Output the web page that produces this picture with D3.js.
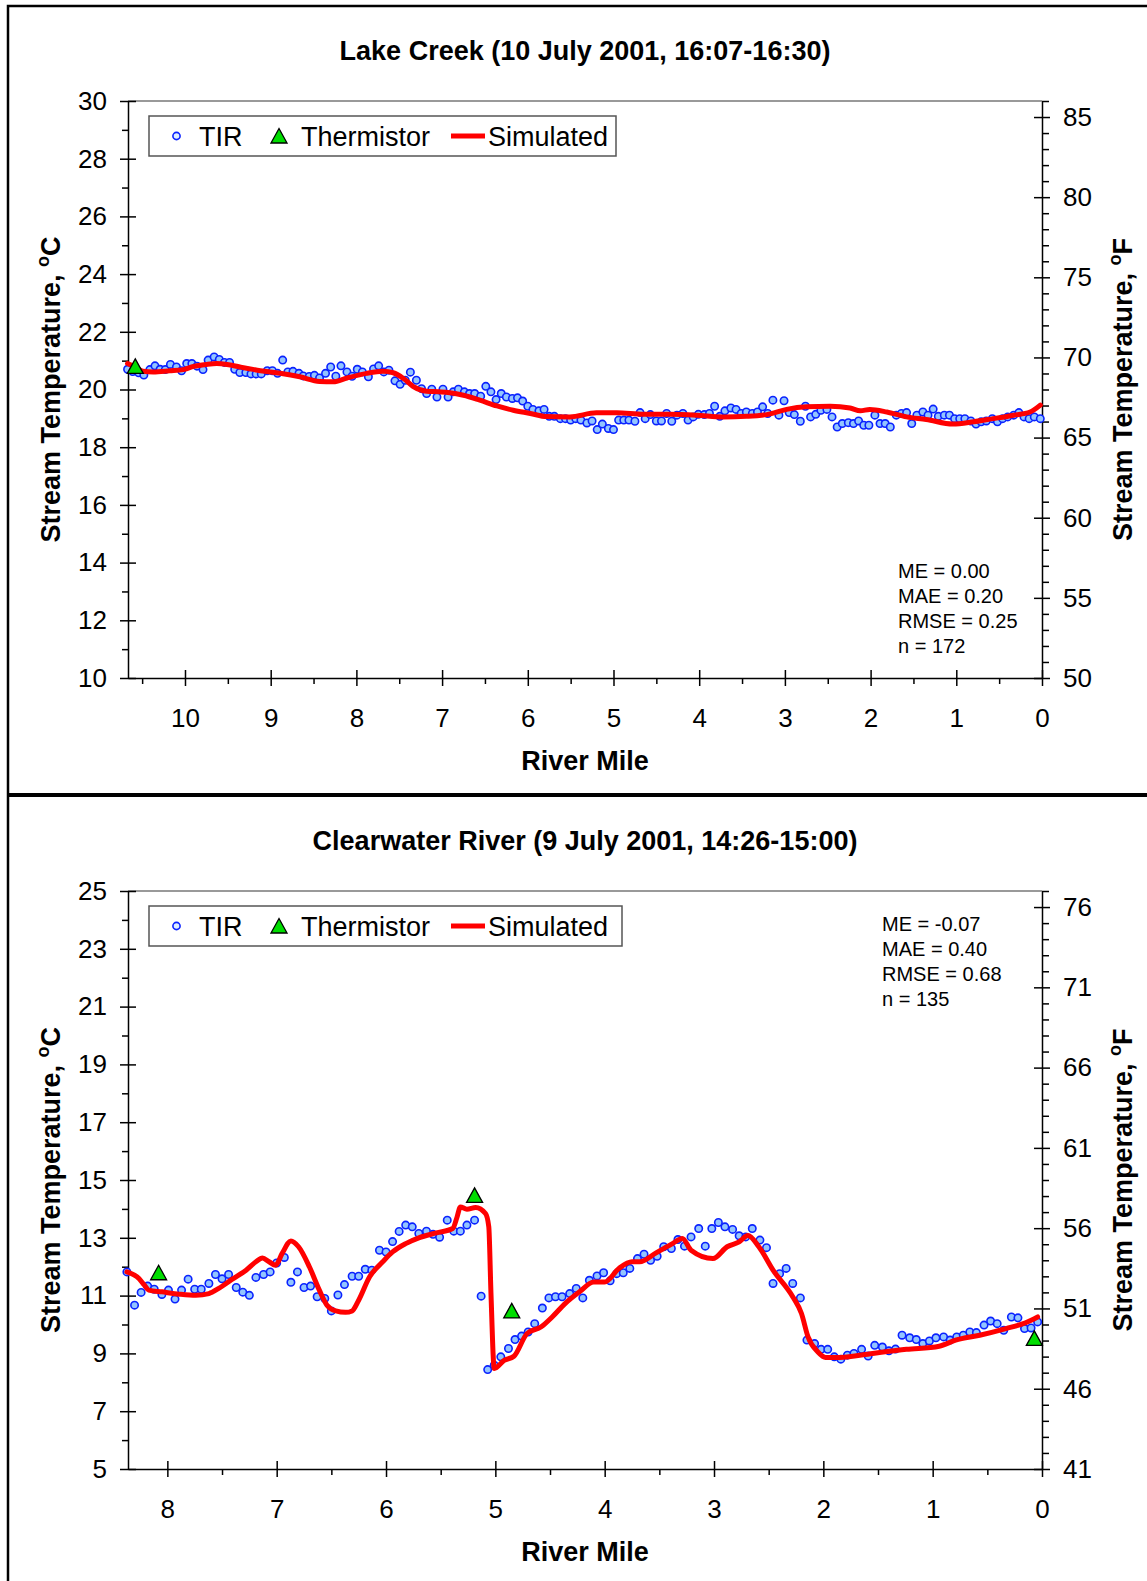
<!DOCTYPE html>
<html>
<head>
<meta charset="utf-8">
<script src="https://cdn.jsdelivr.net/npm/d3@7"></script>
<style>
	body { margin: 0; background: #fff; }
	svg { display: block; font-family: "Liberation Sans", Arial, sans-serif; }
</style>
</head>
<body>
<div id="chart"></div>
<script>

// Lake Creek : [river mile, deg C]
var lakeTir = [
	[10.67,20.70],[10.61,20.62],[10.54,20.58],[10.48,20.50],[10.41,20.69],[10.35,20.82],[10.29,20.70],[10.23,20.69],
	[10.17,20.87],[10.10,20.78],[10.04,20.65],[9.98,20.90],[9.92,20.90],[9.86,20.81],[9.79,20.69],[9.73,21.02],
	[9.66,21.13],[9.60,21.04],[9.54,20.94],[9.48,20.94],[9.42,20.70],[9.36,20.59],[9.29,20.59],[9.23,20.54],
	[9.17,20.54],[9.11,20.54],[9.04,20.65],[8.98,20.65],[8.92,20.56],[8.86,21.02],[8.80,20.61],[8.74,20.63],
	[8.67,20.56],[8.62,20.47],[8.55,20.45],[8.49,20.49],[8.43,20.40],[8.36,20.56],[8.30,20.78],[8.24,20.46],
	[8.18,20.82],[8.11,20.61],[8.05,20.46],[7.99,20.70],[7.93,20.61],[7.86,20.44],[7.80,20.71],[7.74,20.82],
	[7.68,20.61],[7.62,20.67],[7.55,20.30],[7.49,20.18],[7.43,20.32],[7.37,20.60],[7.30,20.32],[7.24,20.03],
	[7.18,19.86],[7.12,20.01],[7.06,19.74],[6.99,20.01],[6.93,19.74],[6.87,19.92],[6.81,20.01],[6.74,19.92],
	[6.68,19.86],[6.62,19.86],[6.55,19.77],[6.49,20.11],[6.43,19.92],[6.37,19.65],[6.31,19.86],[6.25,19.74],
	[6.18,19.69],[6.12,19.71],[6.06,19.60],[6.00,19.42],[5.94,19.31],[5.87,19.26],[5.81,19.31],[5.75,19.07],
	[5.69,19.07],[5.62,18.99],[5.56,18.99],[5.50,18.94],[5.44,18.99],[5.38,18.94],[5.31,18.84],[5.25,18.91],
	[5.19,18.61],[5.13,18.80],[5.06,18.65],[5.00,18.61],[4.94,18.94],[4.88,18.94],[4.82,18.94],[4.75,18.90],
	[4.69,19.20],[4.63,18.99],[4.57,19.13],[4.50,18.91],[4.44,18.91],[4.38,19.17],[4.32,18.90],[4.26,19.11],
	[4.19,19.17],[4.13,18.94],[4.07,19.05],[4.01,19.14],[3.94,19.13],[3.88,19.17],[3.82,19.42],[3.76,19.07],
	[3.70,19.26],[3.63,19.36],[3.57,19.31],[3.51,19.17],[3.45,19.22],[3.38,19.17],[3.32,19.22],[3.26,19.40],
	[3.20,19.17],[3.14,19.63],[3.07,19.11],[3.01,19.61],[2.95,19.20],[2.89,19.13],[2.82,18.90],[2.76,19.42],
	[2.70,19.05],[2.64,19.14],[2.58,19.28],[2.51,19.31],[2.45,19.05],[2.39,18.70],[2.33,18.82],[2.26,18.85],
	[2.20,18.82],[2.14,18.91],[2.08,18.76],[2.02,18.76],[1.95,19.11],[1.89,18.82],[1.83,18.82],[1.77,18.70],
	[1.70,19.11],[1.64,19.17],[1.58,19.20],[1.52,18.82],[1.46,19.11],[1.39,19.22],[1.33,19.11],[1.27,19.32],
	[1.21,19.07],[1.14,19.11],[1.08,19.11],[1.02,18.99],[0.96,18.99],[0.90,18.99],[0.83,18.91],[0.77,18.80],
	[0.71,18.88],[0.65,18.91],[0.58,18.99],[0.52,18.88],[0.46,18.99],[0.40,19.05],[0.33,19.11],[0.27,19.20],
	[0.21,19.05],[0.15,18.99],[0.09,19.05],[0.02,18.99]
];

var lakeSim = [
	[10.67,20.90],[10.58,20.78],[10.49,20.63],[10.37,20.61],[10.18,20.65],[10.02,20.69],[9.90,20.80],[9.75,20.87],
	[9.63,20.90],[9.51,20.87],[9.36,20.78],[9.12,20.65],[8.89,20.56],[8.66,20.44],[8.43,20.28],[8.27,20.27],
	[8.11,20.40],[7.88,20.56],[7.69,20.63],[7.57,20.58],[7.45,20.38],[7.34,20.11],[7.18,19.94],[7.04,19.92],
	[6.91,19.89],[6.75,19.80],[6.56,19.63],[6.36,19.43],[6.17,19.28],[5.97,19.17],[5.78,19.06],[5.51,19.05],
	[5.20,19.19],[4.96,19.19],[4.65,19.14],[4.34,19.14],[4.03,19.11],[3.72,19.05],[3.45,19.07],[3.21,19.13],
	[2.98,19.31],[2.75,19.40],[2.47,19.42],[2.24,19.36],[2.12,19.26],[2.01,19.31],[1.81,19.22],[1.58,19.05],
	[1.35,18.96],[1.04,18.80],[0.80,18.88],[0.57,18.99],[0.33,19.11],[0.14,19.22],[0.02,19.46]
];

var lakeTherm = [[10.58,20.80]];
var lakeStats = ["ME = 0.00", "MAE = 0.20", "RMSE = 0.25", "n = 172"];

// Clearwater River : [river mile, deg C]
var clearTir = [
	[8.37,11.82],[8.30,10.67],[8.24,11.11],[8.18,11.33],[8.12,11.22],[8.05,11.04],[7.99,11.19],[7.93,10.88],
	[7.87,11.19],[7.81,11.57],[7.75,11.22],[7.69,11.22],[7.62,11.42],[7.56,11.73],[7.50,11.58],[7.44,11.73],
	[7.37,11.28],[7.31,11.12],[7.25,11.01],[7.19,11.63],[7.12,11.73],[7.06,11.82],[7.00,12.13],[6.93,12.32],
	[6.87,11.46],[6.81,11.82],[6.75,11.28],[6.69,11.33],[6.63,10.96],[6.56,10.90],[6.50,10.47],[6.44,11.02],
	[6.38,11.38],[6.31,11.67],[6.25,11.67],[6.19,11.91],[6.13,11.88],[6.06,12.57],[6.00,12.51],[5.94,12.87],
	[5.88,13.22],[5.82,13.44],[5.76,13.38],[5.70,13.15],[5.63,13.23],[5.57,13.12],[5.51,13.02],[5.44,13.61],
	[5.38,13.23],[5.32,13.23],[5.26,13.44],[5.19,13.61],[5.13,10.98],[5.07,8.44],[5.01,8.59],[4.95,8.88],
	[4.88,9.17],[4.82,9.48],[4.76,9.60],[4.70,9.74],[4.64,10.03],[4.57,10.57],[4.51,10.92],[4.45,10.96],
	[4.39,10.96],[4.32,11.07],[4.26,11.25],[4.20,10.92],[4.14,11.53],[4.07,11.68],[4.01,11.79],[3.95,11.51],
	[3.89,11.76],[3.83,11.79],[3.77,11.94],[3.70,12.28],[3.64,12.43],[3.58,12.22],[3.52,12.36],[3.46,12.69],
	[3.39,12.63],[3.33,12.94],[3.27,12.71],[3.21,13.03],[3.14,13.32],[3.08,12.71],[3.02,13.32],[2.96,13.53],
	[2.90,13.38],[2.83,13.29],[2.77,13.07],[2.71,13.03],[2.65,13.32],[2.58,12.92],[2.52,12.66],[2.46,11.42],
	[2.40,11.76],[2.34,11.94],[2.28,11.42],[2.21,10.92],[2.15,9.46],[2.08,9.34],[2.02,9.14],[1.96,9.14],
	[1.90,8.88],[1.84,8.80],[1.78,8.94],[1.72,9.00],[1.65,9.14],[1.59,8.91],[1.53,9.28],[1.46,9.22],
	[1.40,9.09],[1.34,9.15],[1.28,9.63],[1.21,9.54],[1.15,9.48],[1.09,9.34],[1.03,9.43],[0.97,9.54],
	[0.90,9.57],[0.84,9.46],[0.78,9.57],[0.72,9.63],[0.66,9.74],[0.60,9.72],[0.53,9.98],[0.47,10.12],
	[0.41,10.03],[0.35,9.80],[0.28,10.26],[0.22,10.23],[0.16,9.86],[0.10,9.88],[0.04,10.09]
];

var clearSim = [
	[8.37,11.82],[8.26,11.59],[8.21,11.36],[8.17,11.19],[8.05,11.13],[7.89,11.05],[7.74,11.01],[7.62,11.07],
	[7.53,11.25],[7.41,11.56],[7.28,11.88],[7.19,12.17],[7.13,12.30],[7.07,12.17],[7.01,12.05],[6.95,12.46],
	[6.87,12.89],[6.80,12.69],[6.70,11.99],[6.61,11.19],[6.54,10.67],[6.46,10.47],[6.37,10.42],[6.31,10.47],
	[6.25,10.84],[6.15,11.65],[6.03,12.17],[5.94,12.51],[5.82,12.80],[5.70,13.00],[5.54,13.17],[5.39,13.32],
	[5.35,13.72],[5.32,14.07],[5.26,13.99],[5.18,14.05],[5.09,13.84],[5.06,13.38],[5.04,11.07],[5.01,8.48],
	[4.92,8.76],[4.83,8.90],[4.71,9.69],[4.58,9.92],[4.48,10.26],[4.36,10.73],[4.23,11.13],[4.10,11.47],
	[4.00,11.47],[3.87,11.94],[3.75,12.17],[3.68,12.17],[3.53,12.48],[3.38,12.80],[3.29,12.98],[3.21,12.57],
	[3.01,12.28],[2.88,12.69],[2.77,12.86],[2.69,13.08],[2.59,12.69],[2.46,11.88],[2.28,10.96],[2.20,10.38],
	[2.14,9.57],[2.05,9.05],[1.98,8.86],[1.85,8.86],[1.55,9.00],[1.24,9.14],[0.94,9.25],[0.79,9.46],
	[0.57,9.63],[0.33,9.86],[0.15,10.06],[0.04,10.26]
];

var clearTherm = [[8.08,11.79],[5.19,14.47],[4.85,10.47],[0.07,9.52]];
var clearStats = ["ME = -0.07", "MAE = 0.40", "RMSE = 0.68", "n = 135"];

var lakeCTicks = [10, 12, 14, 16, 18, 20, 22, 24, 26, 28, 30];
var lakeFTicks = [50, 55, 60, 65, 70, 75, 80, 85];
var lakeMileTicks = [0, 1, 2, 3, 4, 5, 6, 7, 8, 9, 10];
var clearCTicks = [5, 7, 9, 11, 13, 15, 17, 19, 21, 23, 25];
var clearFTicks = [41, 46, 51, 56, 61, 66, 71, 76];
var clearMileTicks = [0, 1, 2, 3, 4, 5, 6, 7, 8];

var width = 1147,
	height = 1581,
	left = 128,
	right = 1042,
	font = 26,
	bigFont = 27;

var svg = d3.select("#chart").append("svg")
	.attr("width", width)
	.attr("height", height);

svg.append("rect")
	.attr("width", width).attr("height", height)
	.attr("fill", "#fff");

// figure frame and panel divider
svg.append("rect")
	.attr("x", 8).attr("y", 6)
	.attr("width", width + 20).attr("height", height + 20)
	.attr("fill", "none").attr("stroke", "#000").attr("stroke-width", 2.5);

svg.append("line")
	.attr("x1", 8).attr("x2", width)
	.attr("y1", 795).attr("y2", 795)
	.attr("stroke", "#000").attr("stroke-width", 4);

function cToF(c) { return c * 9 / 5 + 32; }

function triangle(sel) {
	return sel.attr("d", "M0,-7.5L8,7L-8,7Z")
		.attr("fill", "#00dd00")
		.attr("stroke", "#000")
		.attr("stroke-width", 1.3);
}

function drawPanel(p) {

	var x = d3.scaleLinear().domain([p.mileMax, 0]).range([left, right]),
		y = d3.scaleLinear().domain(p.cDomain).range([p.bottom, p.top]),
		yF = d3.scaleLinear().domain(p.cDomain.map(cToF)).range([p.bottom, p.top]);

	var g = svg.append("g");

	g.append("text")
		.attr("x", (left + right) / 2).attr("y", p.top - 41)
		.attr("text-anchor", "middle")
		.attr("font-size", bigFont).attr("font-weight", "bold")
		.text(p.title);

	// grey top frame
	g.append("line")
		.attr("x1", left).attr("x2", right)
		.attr("y1", p.top).attr("y2", p.top)
		.attr("stroke", "#777").attr("stroke-width", 1.5);

	var fMin = Math.ceil(cToF(p.cDomain[0])), fMax = Math.floor(cToF(p.cDomain[1]));
	var fMinor = d3.range(fMin, fMax + 1).filter(function(v){ return p.fTicks.indexOf(v) < 0; });
	var cMinor = d3.range(p.cDomain[0], p.cDomain[1] + 1).filter(function(v){ return p.cTicks.indexOf(v) < 0; });
	var mileMinor = d3.range(0.5, p.mileMax, 1);

	function minor(axis, vals, size, tr) {
		var a = g.append("g").attr("transform", tr)
			.call(axis.tickValues(vals).tickSize(size).tickFormat(""));
		a.select(".domain").remove();
		a.selectAll("line").attr("stroke-width", 1.5);
	}
	minor(d3.axisBottom(x), mileMinor, 6, "translate(0," + p.bottom + ")");
	minor(d3.axisLeft(y), cMinor, 6, "translate(" + left + ",0)");
	minor(d3.axisRight(yF), fMinor, 7, "translate(" + right + ",0)");

	function major(axis, vals, tr, cross) {
		var a = g.append("g").attr("transform", tr)
			.call(axis.tickValues(vals).tickSizeInner(8).tickSizeOuter(0).tickPadding(13));
		a.attr("font-size", font).attr("font-family", null);
		a.select(".domain").attr("stroke-width", 1.5);
		a.selectAll(".tick line").attr("stroke-width", 1.5).attr(cross, function(){
			return -d3.select(this).attr(cross === "y1" ? "y2" : "x2");
		});
		return a;
	}

	var xa = major(d3.axisBottom(x).tickFormat(d3.format("d")), p.mileTicks, "translate(0," + p.bottom + ")", "y1");
	xa.selectAll(".tick text").attr("y", 49).attr("dy", null);
	major(d3.axisLeft(y), p.cTicks, "translate(" + left + ",0)", "x1");
	major(d3.axisRight(yF), p.fTicks, "translate(" + right + ",0)", "x1");

	g.append("text")
		.attr("x", (left + right) / 2).attr("y", p.bottom + 92)
		.attr("text-anchor", "middle")
		.attr("font-size", bigFont).attr("font-weight", "bold")
		.text("River Mile");

	[["C", 60], ["F", 1132]].forEach(function(d){
		var t = g.append("text")
			.attr("transform", "translate(" + d[1] + "," + (p.top + p.bottom) / 2 + ") rotate(-90)")
			.attr("text-anchor", "middle")
			.attr("font-size", bigFont).attr("font-weight", "bold");
		t.append("tspan").text("Stream Temperature, ");
		t.append("tspan").attr("font-size", 18).attr("dy", -11).text("o");
		t.append("tspan").attr("dy", 11).text(d[0]);
	});

	// TIR points, simulated line, thermistors
	g.append("g").selectAll("circle")
		.data(p.tir)
		.join("circle")
		.attr("cx", function(d){ return x(d[0]); })
		.attr("cy", function(d){ return y(d[1]); })
		.attr("r", 3.7)
		.attr("fill", "#93c5ff")
		.attr("stroke", "#0a22ff")
		.attr("stroke-width", 1.6);

	var line = d3.line()
		.x(function(d){ return x(d[0]); })
		.y(function(d){ return y(d[1]); })
		.curve(d3.curveMonotoneX);

	g.append("path")
		.datum(p.sim)
		.attr("d", line)
		.attr("fill", "none")
		.attr("stroke", "#ff0000")
		.attr("stroke-width", 5)
		.attr("stroke-linejoin", "round")
		.attr("stroke-linecap", "round");

	g.append("g").selectAll("path")
		.data(p.therm)
		.join("path")
		.attr("transform", function(d){ return "translate(" + x(d[0]) + "," + y(d[1]) + ")"; })
		.call(triangle);

	// legend
	var lg = g.append("g").attr("transform", "translate(149," + p.legendY + ")");
	lg.append("rect")
		.attr("width", p.legendW).attr("height", 40)
		.attr("fill", "#fff").attr("stroke", "#555").attr("stroke-width", 1.5);
	lg.append("circle")
		.attr("cx", 27.5).attr("cy", 20).attr("r", 3.6)
		.attr("fill", "#dfeeff").attr("stroke", "#0a22ff").attr("stroke-width", 1.6);
	lg.append("path").attr("transform", "translate(130,20)").call(triangle);
	lg.append("line")
		.attr("x1", 302).attr("x2", 336).attr("y1", 20).attr("y2", 20)
		.attr("stroke", "#ff0000").attr("stroke-width", 5);
	[["TIR", 50], ["Thermistor", 152], ["Simulated", 339]].forEach(function(d){
		lg.append("text").attr("x", d[1]).attr("y", 29.5)
			.attr("font-size", bigFont).text(d[0]);
	});

	g.append("g").selectAll("text")
		.data(p.stats)
		.join("text")
		.attr("x", p.statsX)
		.attr("y", function(d, i){ return p.statsY + i * 25; })
		.attr("font-size", 20)
		.text(function(d){ return d; });
}

drawPanel({
	title: "Lake Creek (10 July 2001, 16:07-16:30)",
	top: 101, bottom: 678, mileMax: 10.665,
	cDomain: [10, 30],
	cTicks: lakeCTicks, fTicks: lakeFTicks, mileTicks: lakeMileTicks,
	tir: lakeTir, sim: lakeSim, therm: lakeTherm,
	legendY: 116, legendW: 467,
	stats: lakeStats, statsX: 898, statsY: 578
});

drawPanel({
	title: "Clearwater River (9 July 2001, 14:26-15:00)",
	top: 891, bottom: 1469, mileMax: 8.36,
	cDomain: [5, 25],
	cTicks: clearCTicks, fTicks: clearFTicks, mileTicks: clearMileTicks,
	tir: clearTir, sim: clearSim, therm: clearTherm,
	legendY: 906, legendW: 473,
	stats: clearStats, statsX: 882, statsY: 931
});

</script>
</body>
</html>
